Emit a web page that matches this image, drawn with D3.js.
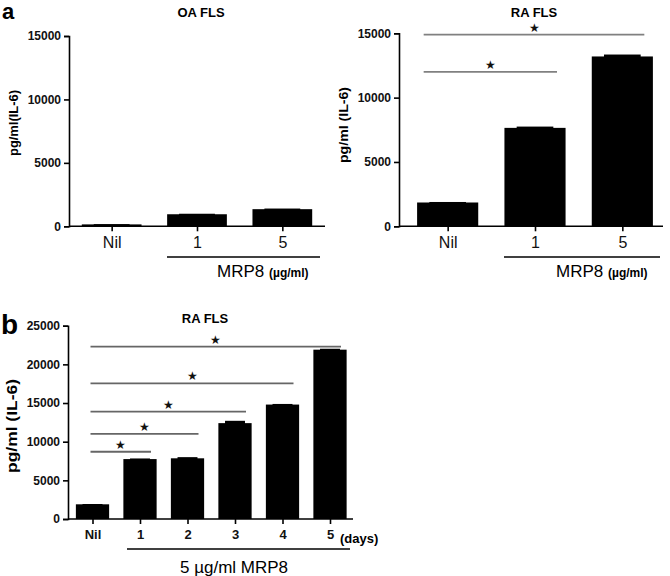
<!DOCTYPE html>
<html><head><meta charset="utf-8">
<script src="https://cdn.jsdelivr.net/npm/d3@7"></script>
<style>body{margin:0;background:#fff}svg{display:block}text{font-family:Arial,"Liberation Sans",sans-serif}</style>
</head><body>
<script>
// ---- data ----
const doseCategories = ["Nil", "1", "5"];
const oaValues = [150, 950, 1350];
const oaErrors = [20, 40, 50];
const raValues = [1850, 7650, 13200];
const raErrors = [40, 100, 150];
const raSignificance = [[0, 2, 14900], [0, 1, 12000]];
const dayCategories = ["Nil", "1", "2", "3", "4", "5"];
const dayValues = [1900, 7750, 7850, 12400, 14800, 21900];
const dayErrors = [40, 80, 150, 300, 80, 120];
const daySignificance = [[0, 5, 22300], [0, 4, 17550], [0, 3, 13900], [0, 2, 11000], [0, 1, 8700]];
const ticksA = [0, 5000, 10000, 15000];
const ticksB = [0, 5000, 10000, 15000, 20000, 25000];

const svg = d3.select("body").append("svg").attr("width", 670).attr("height", 576);

function panel(o) {
  const g = svg.append("g");
  const x = d3.scalePoint().domain(o.cats).range([o.xr0, o.xr1]).padding(0.5);
  const y = d3.scaleLinear().domain([0, o.ymax]).range([o.y0, o.ytop]);
  const bw = x.step() * 0.7;
  g.selectAll("rect.bar").data(o.values).join("rect")
    .attr("x", (d, i) => x(o.cats[i]) - bw / 2).attr("width", bw)
    .attr("y", d => y(d)).attr("height", d => y(0) - y(d)).attr("fill", "#000");
  g.selectAll("rect.err").data(o.values).join("rect")
    .attr("x", (d, i) => x(o.cats[i]) - bw * 0.3).attr("width", bw * 0.6)
    .attr("y", (d, i) => y(d + o.errors[i])).attr("height", (d, i) => y(d) - y(d + o.errors[i]) + 1)
    .attr("fill", "#000");
  const ya = g.append("g").attr("transform", `translate(${o.ax},0)`)
    .call(d3.axisLeft(y).tickValues(o.ticks).tickFormat(d3.format("d")).tickSize(5).tickPadding(3));
  ya.select(".domain").attr("stroke-width", 1.6);
  ya.selectAll(".tick line").attr("stroke-width", 1.6);
  ya.selectAll("text").attr("font-size", o.ytfs).attr("font-weight", "bold").attr("fill", "#111");
  const xa = g.append("g").attr("transform", `translate(0,${o.y0})`)
    .call(d3.axisBottom(x).tickSize(5).tickPadding(o.xtpad).tickSizeOuter(0));
  xa.select(".domain").attr("d", `M${o.ax},0H${o.axEnd}`).attr("stroke-width", 1.6);
  xa.selectAll(".tick line").attr("stroke-width", 1.6);
  xa.selectAll("text").attr("font-size", o.xtfs).attr("font-weight", o.xtfw).attr("fill", "#111");
  g.append("text").attr("x", o.titleX).attr("y", o.titleY).attr("text-anchor", "middle")
    .attr("font-size", 13).attr("font-weight", "bold").text(o.title);
  g.append("text").attr("transform", `translate(${o.ylx},${o.yly}) rotate(-90)`)
    .attr("text-anchor", "middle").attr("font-size", o.ylfs).attr("font-weight", "bold")
    .attr("textLength", o.ylLen).attr("lengthAdjust", "spacingAndGlyphs").text(o.ylabel);
  if (o.sig) {
    o.sig.forEach(s => {
      const x1 = x(o.cats[s[0]]) + o.sigOff[0], x2 = x(o.cats[s[1]]) + o.sigOff[1];
      g.append("line").attr("x1", x1).attr("x2", x2).attr("y1", y(s[2])).attr("y2", y(s[2]))
        .attr("stroke", o.sigColor).attr("stroke-width", 1.8);
      g.append("text").attr("x", (x1 + x2) / 2).attr("y", y(s[2]) - 3).attr("text-anchor", "middle")
        .attr("font-size", 12).attr("font-family", "DejaVu Sans").attr("fill", "#111").text("\u2605");
    });
  }
  return {g, x, y};
}

const p1 = panel({cats: doseCategories, values: oaValues, errors: oaErrors, xr0: 69, xr1: 325, ax: 69, axEnd: 325,
  y0: 226.3, ytop: 36, ymax: 15000, ticks: ticksA, ytfs: 12, xtfs: 16, xtfw: "normal", xtpad: 5,
  title: "OA FLS", titleX: 201, titleY: 17, ylabel: "pg/ml(IL-6)", ylx: 18, yly: 123, ylfs: 13, ylLen: 66});
const p2 = panel({cats: doseCategories, values: raValues, errors: raErrors, xr0: 404, xr1: 666, ax: 399, axEnd: 663,
  y0: 226.3, ytop: 33.3, ymax: 15000, ticks: ticksA, ytfs: 12, xtfs: 16, xtfw: "normal", xtpad: 5,
  title: "RA FLS", titleX: 534, titleY: 17, ylabel: "pg/ml (IL-6)", ylx: 348, yly: 125, ylfs: 13, ylLen: 76,
  sig: raSignificance, sigOff: [-24, 22], sigColor: "#808080"});
const p3 = panel({cats: dayCategories, values: dayValues, errors: dayErrors, xr0: 68.75, xr1: 353.75, ax: 68, axEnd: 353,
  y0: 519, ytop: 325.7, ymax: 25000, ticks: ticksB, ytfs: 12, xtfs: 13, xtfw: "bold", xtpad: 6,
  title: "RA FLS", titleX: 205, titleY: 323, ylabel: "pg/ml (IL-6)", ylx: 17, yly: 426, ylfs: 14, ylLen: 94,
  sig: daySignificance, sigOff: [-2, 11], sigColor: "#666"});

svg.append("text").attr("x", 2).attr("y", 19).attr("font-size", 22).attr("font-weight", "bold").text("a");
svg.append("text").attr("x", 1).attr("y", 334).attr("font-size", 28).attr("font-weight", "bold").text("b");

[[p1, 167, 320, 217], [p2, 504, 660, 556]].forEach(([p, x1, x2, tx]) => {
  svg.append("line").attr("x1", x1).attr("x2", x2).attr("y1", 257).attr("y2", 257).attr("stroke", "#000").attr("stroke-width", 1.6);
  const t = svg.append("text").attr("x", tx).attr("y", 277).attr("font-size", 17);
  t.append("tspan").text("MRP8 ");
  t.append("tspan").attr("font-size", 12).attr("font-weight", "bold").text("(\u00b5g/ml)");
});
svg.append("text").attr("x", 340).attr("y", 543).attr("font-size", 13).attr("font-weight", "bold").text("(days)");
svg.append("line").attr("x1", 127).attr("x2", 350).attr("y1", 549).attr("y2", 549).attr("stroke", "#000").attr("stroke-width", 1.6);
svg.append("text").attr("x", 180).attr("y", 573).attr("font-size", 17).text("5 \u00b5g/ml MRP8");
</script>
</body></html>
